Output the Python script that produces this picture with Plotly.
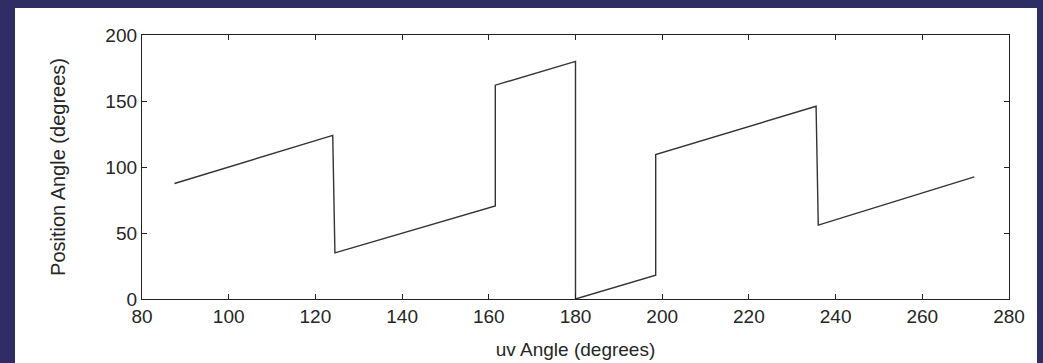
import plotly.graph_objects as go

# Data
uv_angle = [87.5, 124, 124.5, 161.5, 161.5, 180, 180, 198.5, 198.5, 235.5, 236, 272]
position_angle = [87.5, 124, 35, 70.5, 162, 180, 0, 18, 109.5, 146, 56, 92.5]

x_ticks = [80, 100, 120, 140, 160, 180, 200, 220, 240, 260, 280]
y_ticks = [0, 50, 100, 150, 200]

W, H = 1043, 363
L, R, T, B = 142, W - 1009, 35, H - 299
pw, ph = W - L - R, H - T - B

FONT = "Liberation Sans, Arial, sans-serif"
TXT = "#262626"

fig = go.Figure()
fig.add_trace(go.Scatter(
    x=uv_angle, y=position_angle, mode="lines",
    line=dict(color="#333333", width=1.4), showlegend=False,
))

axis_common = dict(
    showline=True, linecolor="#222222", linewidth=1.3, mirror="ticks",
    ticks="inside", ticklen=5, tickcolor="#222222", tickwidth=1,
    showgrid=False, zeroline=False, automargin=False,
    tickfont=dict(family=FONT, size=19, color=TXT),
)

fig.update_xaxes(range=[80, 280], tickvals=x_ticks, **axis_common,
                 title=dict(text="uv Angle (degrees)", standoff=16,
                            font=dict(family=FONT, size=19, color=TXT)))
fig.update_yaxes(range=[0, 200], tickvals=y_ticks, **axis_common,
                 title=dict(text="Position Angle (degrees)", standoff=34,
                            font=dict(family=FONT, size=20, color=TXT)))

# white panel on the navy page
fig.add_shape(type="rect", xref="paper", yref="paper", layer="below",
              x0=(15 - L) / pw, x1=(1037 - L) / pw,
              y0=-(B + 5) / ph, y1=(H - B - 8) / ph,
              fillcolor="white", line=dict(width=0))

fig.update_layout(
    width=W, height=H,
    margin=dict(l=L, r=R, t=T, b=B),
    paper_bgcolor="#2f2e64",
    plot_bgcolor="white",
)

fig.write_html("out.html", config={"displayModeBar": False},
               post_script="document.body.style.margin='0';document.body.style.overflow='hidden';")
